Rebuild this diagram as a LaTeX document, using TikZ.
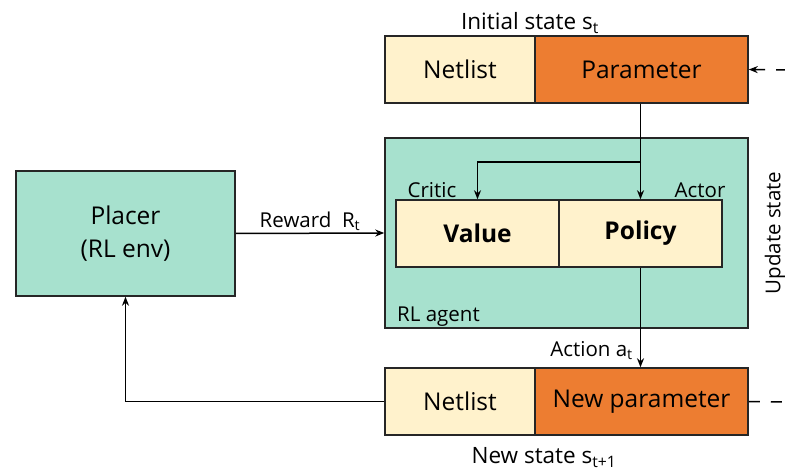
\documentclass[tikz,border=0pt]{standalone}
\usepackage{fontspec}
\setmainfont{Open Sans}
\usetikzlibrary{arrows.meta}
\definecolor{creamfill}{HTML}{FFF2CC}
\definecolor{orangefill}{HTML}{ED7D31}
\definecolor{tealfill}{HTML}{A7E1CE}
\definecolor{edge}{HTML}{262626}
\tikzset{
  blk/.style={draw=edge, line width=1.5bp, inner sep=0pt, font=\fontsize{24.5bp}{29bp}\selectfont},
  creambox/.style={blk, fill=creamfill},
  orangebox/.style={blk, fill=orangefill},
  tealbox/.style={blk, fill=tealfill},
  lbl/.style={inner sep=0pt, anchor=base, font=\fontsize{20.5bp}{24bp}\selectfont},
  statelbl/.style={lbl, font=\fontsize{22.5bp}{26bp}\selectfont},
  arr/.style={line width=1.5bp, draw=black, -{Stealth[length=9bp,width=7bp]}},
  dashline/.style={line width=1.5bp, dash pattern=on 11bp off 11bp},
}
\begin{document}
\begin{tikzpicture}[x=1bp,y=-1bp]
  \useasboundingbox (0,0) rectangle (785,470);

  % initial state bar
  \node[creambox, minimum width=150bp, minimum height=67bp] (net1) at (460,69.5) {Netlist};
  \node[orangebox, minimum width=213bp, minimum height=67bp] (par1) at (641.5,69.5) {Parameter};
  \node[statelbl] (init) at (530,30) {Initial state s\textsubscript{t}};

  % RL agent
  \node[tealbox, minimum width=363bp, minimum height=190bp] (agent) at (566.5,233) {};
  \node[creambox, minimum width=163bp, minimum height=67bp, font=\fontsize{24.5bp}{29bp}\selectfont\bfseries] (value) at (477.5,233.5) {Value};
  \node[creambox, minimum width=163bp, minimum height=67bp, font=\fontsize{24.5bp}{29bp}\selectfont\bfseries] (policy) at (640.5,233.5) {Policy};
  \node[lbl] (critic) at (432,198) {Critic};
  \node[lbl] (actor) at (700,198) {Actor};
  \node[lbl, anchor=base west] (agentlbl) at (397,322) {RL agent};

  % environment
  \node[tealbox, minimum width=219bp, minimum height=125bp, align=center, font=\fontsize{24.5bp}{33bp}\selectfont] (placer) at (125.5,233.5) {Placer\\(RL env)};

  % new state bar
  \node[creambox, minimum width=150bp, minimum height=67bp] (net2) at (460,401.5) {Netlist};
  \node[orangebox, minimum width=213bp, minimum height=67bp] (par2) at (641.5,401.5) {New parameter};
  \node[statelbl] (newst) at (544,463) {New state s\textsubscript{t+1}};

  % side label
  \node[lbl, anchor=center, rotate=90] (upd) at (775,233) {Update state};

  % connectors
  \coordinate (branch) at (641,162);
  \coordinate (rin) at (785,70);
  \coordinate (rout) at (785,402);
  \draw[arr] (par1.south -| policy.north) -- (policy.north);
  \draw[arr] (branch) -| (value.north);
  \draw[arr] (policy.south) -- (par2.north -| policy.south)
    node[lbl, anchor=base east, pos=1, xshift=-7bp, yshift=11bp] {Action a\textsubscript{t}};
  \draw[arr] (placer.east) -- (agent.west)
    node[lbl, midway, anchor=base, yshift=6bp] {Reward\ \ R\textsubscript{t}};
  \draw[arr] (net2.west) -| (placer.south);
  \draw[dashline, {Stealth[length=9bp,width=7bp]}-] (par1.east) -- (rin);
  \draw[dashline] (par2.east) -- (rout);
\end{tikzpicture}
\end{document}
